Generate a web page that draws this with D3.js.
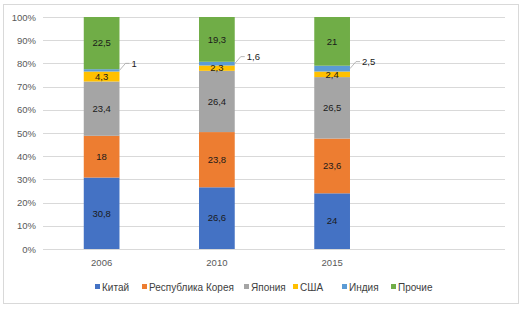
<!doctype html>
<html lang="ru">
<head>
<meta charset="UTF-8">
<title>Chart</title>
<script src="https://cdn.jsdelivr.net/npm/d3@7"></script>
<style>
  body { margin: 0; background: #fff; }
  text { font-family: "Liberation Sans", Arial, sans-serif; }
</style>
</head>
<body>
<div class="canvas"></div>
<script>
  // data
  const years = ['2006', '2010', '2015'];
  const seriesNames = ['Китай', 'Республика Корея', 'Япония', 'США', 'Индия', 'Прочие'];
  const china = [30.8, 26.6, 24];
  const korea = [18, 23.8, 23.6];
  const japan = [23.4, 26.4, 26.5];
  const usa = [4.3, 2.3, 2.4];
  const india = [1, 1.6, 2.5];
  const other = [22.5, 19.3, 21];
  const yTicks = [0, 10, 20, 30, 40, 50, 60, 70, 80, 90, 100];

  const colors = ['#4472C4', '#ED7D31', '#A5A5A5', '#FFC000', '#5B9BD5', '#70AD47'];
  const allSeries = [china, korea, japan, usa, india, other];

  const rows = years.map((yr, i) => {
    const r = { year: yr };
    seriesNames.forEach((n, k) => r[n] = allSeries[k][i]);
    return r;
  });

  const width = 526, height = 310;
  const svg = d3.select('.canvas').append('svg')
    .attr('width', width)
    .attr('height', height);

  // chart border
  svg.append('rect')
    .attr('x', 3.5).attr('y', 4.5)
    .attr('width', 515).attr('height', 299)
    .attr('fill', 'none')
    .attr('stroke', '#d9d9d9');

  const [ml, mr, mt, mb] = [43, 505, 17, 249];

  // 4 slots, last one empty (like the original)
  const x = d3.scaleBand()
    .domain([...years, ''])
    .range([ml + 1, mr])
    .paddingInner(0.69)
    .paddingOuter(0.345);

  const y = d3.scaleLinear()
    .domain([0, 100])
    .range([mb, mt]);

  // grid
  svg.append('g').selectAll('line')
    .data(yTicks)
    .join('line')
    .attr('x1', ml).attr('x2', mr)
    .attr('y1', d => Math.round(y(d)) + 0.5)
    .attr('y2', d => Math.round(y(d)) + 0.5)
    .attr('stroke', '#d9d9d9');

  const yAxis = d3.axisLeft(y)
    .tickValues(yTicks)
    .tickFormat(d => d + '%')
    .tickSize(0)
    .tickPadding(7);

  const yAxisG = svg.append('g')
    .attr('transform', `translate(${ml}, 0)`)
    .call(yAxis);
  yAxisG.select('.domain').remove();
  yAxisG.selectAll('text')
    .attr('fill', '#595959')
    .style('font-size', '9.5px');

  const xAxis = d3.axisBottom(x).tickSize(0).tickPadding(10);
  const xAxisG = svg.append('g')
    .attr('transform', `translate(0, ${mb})`)
    .call(xAxis);
  xAxisG.select('.domain').remove();
  xAxisG.selectAll('text')
    .attr('fill', '#595959')
    .style('font-size', '9.5px');

  const stack = d3.stack().keys(seriesNames);
  const stacked = stack(rows);

  const groups = svg.append('g').selectAll('g')
    .data(stacked)
    .join('g')
    .attr('fill', (d, i) => colors[i]);

  groups.selectAll('rect')
    .data(d => d)
    .join('rect')
    .attr('x', d => x(d.data.year))
    .attr('width', x.bandwidth())
    .attr('y', d => y(d[1]))
    .attr('height', d => y(d[0]) - y(d[1]));

  const fmt = v => String(v).replace('.', ',');

  // labels inside bars (India outside with a leader line)
  stacked.forEach((s, k) => {
    const inside = seriesNames[k] !== 'Индия';
    const g = svg.append('g');
    s.forEach(d => {
      const cx = x(d.data.year) + x.bandwidth() / 2;
      const cy = (y(d[0]) + y(d[1])) / 2;
      const val = fmt(d.data[seriesNames[k]]);
      if (inside) {
        g.append('text')
          .attr('x', cx).attr('y', cy)
          .attr('dy', '0.35em')
          .attr('text-anchor', 'middle')
          .attr('fill', '#1a1a1a')
          .style('font-size', '9.5px')
          .text(val);
      } else {
        const x0 = x(d.data.year) + x.bandwidth();
        const ly = cy - 7;
        g.append('polyline')
          .attr('points', `${x0},${cy} ${x0 + 6},${ly} ${x0 + 10},${ly}`)
          .attr('fill', 'none')
          .attr('stroke', '#a6a6a6')
          .attr('stroke-width', 0.8);
        g.append('text')
          .attr('x', x0 + 12).attr('y', ly)
          .attr('dy', '0.35em')
          .attr('fill', '#1a1a1a')
          .style('font-size', '9.5px')
          .text(val);
      }
    });
  });

  // legend
  const legendX = [95, 142, 244, 293, 342, 391];
  const legend = svg.append('g').selectAll('g')
    .data(seriesNames)
    .join('g')
    .attr('transform', (d, i) => `translate(${legendX[i]}, 287)`);

  legend.append('rect')
    .attr('x', 0).attr('y', -3)
    .attr('width', 5).attr('height', 5)
    .attr('fill', (d, i) => colors[i]);

  legend.append('text')
    .attr('x', 7).attr('y', 0)
    .attr('dy', '0.35em')
    .attr('fill', '#404040')
    .style('font-size', '10px')
    .text(d => d);
</script>
</body>
</html>
